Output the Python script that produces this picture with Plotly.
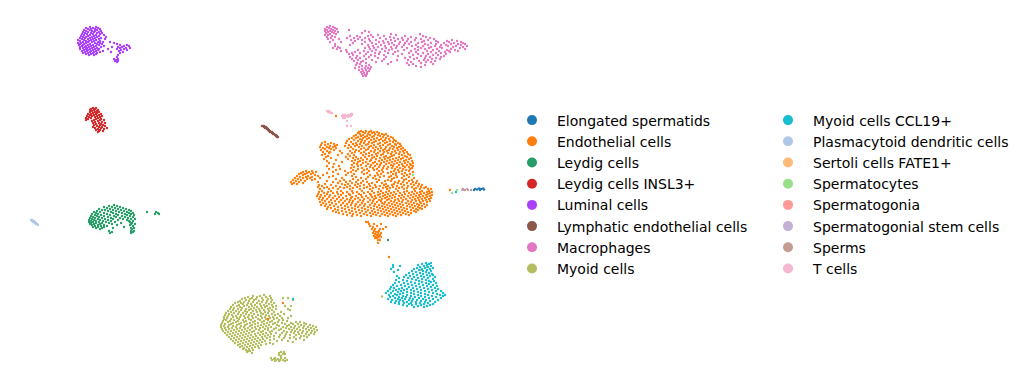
import plotly.graph_objects as go

CATEGORIES_LEFT = ["Elongated spermatids","Endothelial cells","Leydig cells","Leydig cells INSL3+","Luminal cells","Lymphatic endothelial cells","Macrophages","Myoid cells"]
CATEGORIES_RIGHT = ["Myoid cells CCL19+","Plasmacytoid dendritic cells","Sertoli cells FATE1+","Spermatocytes","Spermatogonia","Spermatogonial stem cells","Sperms","T cells"]
COLORS = {"Elongated spermatids":"#1f77b4","Endothelial cells":"#ff7f0e","Leydig cells":"#279e68","Leydig cells INSL3+":"#d62728","Luminal cells":"#aa40fc","Lymphatic endothelial cells":"#8c564b","Macrophages":"#e377c2","Myoid cells":"#b5bd61","Myoid cells CCL19+":"#17becf","Plasmacytoid dendritic cells":"#aec7e8","Sertoli cells FATE1+":"#ffbb78","Spermatocytes":"#98df8a","Spermatogonia":"#ff9896","Spermatogonial stem cells":"#c5b0d5","Sperms":"#c49c94","T cells":"#f7b6d2"}

# Embedding values, grouped by scan row: {umap2: [umap1, ...]}
ENDOTHELIAL = {
131:[361,366,371],132:[359,363,369,374,377],133:[358,365,372,379],134:[360,368,375,382,386],135:[356,363,370,378,384],
136:[354,361,367,374,380,388],137:[358,365,372,383,391],138:[352,356,363,369,377,386,393],139:[349,360,367,374,381,389],
140:[354,362,371,379,385,394],141:[347,358,365,376,383,390,396],142:[325,351,361,369,374,387,393],143:[322,331,346,356,364,372,380,385,398],
144:[328,334,353,360,368,378,390,395,400],145:[321,325,337,349,357,366,374,383,388,396],146:[330,335,345,355,362,371,380,392,401],
147:[320,327,333,351,359,369,376,386,394,399],148:[323,329,336,348,364,373,381,390,397,403],149:[325,331,353,361,368,378,385,393,401],
150:[321,334,356,366,375,383,389,398,405],151:[327,340,350,359,371,380,387,395,403],152:[323,330,355,364,374,384,392,400,407],
153:[329,342,352,361,369,378,388,396,404],154:[325,348,366,376,383,391,399,408],155:[322,338,354,363,372,381,394,402,410],
156:[328,350,369,377,386,392,405],157:[326,346,356,365,374,384,390,399,407],158:[331,353,361,372,380,388,396,403,411],
159:[324,348,358,367,376,385,393,401,409],160:[336,355,363,371,382,390,398,406],161:[327,352,360,370,379,387,395,404,412],
162:[342,358,366,375,384,392,400,408],163:[329,354,363,373,381,389,397,405,413],164:[334,357,368,377,386,394,402,410],
165:[352,361,371,380,391,399,407,411],166:[327,339,358,366,375,384,393,403,413],167:[333,354,370,379,388,397,405,409],
168:[351,362,373,383,392,400,412],169:[329,340,358,367,377,387,395,403,410],170:[336,353,364,374,382,398,406],
171:[306,312,345,356,369,379,394,402,409],172:[303,309,316,333,351,362,383,391,399,413],173:[301,307,313,327,348,367,377,388,396,405],
174:[299,305,311,338,354,364,381,393,402,410],175:[303,315,323,346,370,378,396,407],176:[297,308,318,333,352,375,384,391,404],
177:[300,306,312,329,356,368,380,389,397,409],178:[295,303,310,320,342,361,373,394,402,414],179:[298,307,315,336,353,366,376,392,406],
180:[293,301,312,344,358,379,388,404,412],181:[296,305,327,340,350,363,385,391,399,409,417],182:[291,299,318,333,346,356,367,377,395,403,413],
183:[294,303,338,352,361,372,382,398,407,416],184:[292,297,325,342,348,358,369,386,394,401,411,419],185:[319,331,345,355,364,375,384,392,404,414,422],
186:[322,336,350,360,370,380,388,397,408,418],187:[318,327,340,347,357,367,376,386,393,402,412,421,426],188:[324,333,344,353,364,373,383,390,399,407,416,424],
189:[320,329,338,350,360,370,379,387,396,404,414,420,428,431],190:[317,326,335,346,355,366,376,384,392,402,410,418,425],
191:[322,331,341,352,362,372,381,389,398,407,415,422,429],192:[319,328,337,347,357,368,378,386,394,404,412,420,427,432],
193:[324,333,343,353,364,374,383,391,400,409,417,424,430],194:[318,327,338,349,359,370,380,388,396,405,414,421,428],
195:[321,330,341,350,361,371,378,385,393,402,411,419,426,432],196:[317,325,335,346,356,366,375,383,390,399,408,416,423,430],
197:[320,329,339,352,362,372,380,387,395,404,413,420,427],198:[323,333,343,351,358,368,376,385,392,401,410,418,425,431],
199:[319,327,337,347,355,364,374,382,389,398,406,415,422,429],200:[322,331,341,350,360,370,379,387,395,403,412,419,426],
201:[325,335,345,353,363,373,381,391,399,408,416,423,430],202:[320,329,339,349,358,368,377,385,394,402,411,420,427],
203:[323,332,343,352,362,372,382,389,397,406,414,421],204:[326,336,347,356,365,375,384,392,400,409,417,424],
205:[321,330,341,351,360,370,379,387,395,403,412,419,427],206:[325,334,345,355,364,374,382,390,398,407,415,422],
207:[328,338,348,358,368,377,385,393,401,410,418,425],208:[331,342,352,362,371,380,388,396,404,413,420],
209:[327,335,345,355,365,374,383,391,399,407,416,422],210:[338,349,359,368,378,386,394,402,411,418],
211:[333,342,352,362,372,381,389,397,405,414],212:[336,346,356,366,375,384,392,400,408,416],213:[339,350,360,370,378,387,395,403,411],
214:[343,353,364,373,382,390,398,406],215:[347,357,367,376,385,393,401,409],216:[352,361,371,380,388,396],
222:[366,368],224:[369,374,381],226:[370,377],227:[373,386],229:[372,375,380,383],231:[374,379],232:[376,378],233:[373,381],234:[375,378],235:[377,380],236:[374,379],237:[376,378,381],238:[375,377],240:[378,380],243:[378],257:[389],
303:[283],319:[268],116:[336],190:[450],
}
LEYDIG = {
205:[114],206:[109,117],207:[104,112,120],208:[107,115,123],209:[99,110,118,126],210:[102,105,113,121,129],211:[97,108,116,124,131],212:[94,100,111,119,127,147,156],
213:[96,104,113,122,129,133,158],214:[92,98,107,116,125,131,155,159],215:[95,101,110,118,127,134],216:[91,97,104,114,122,130],217:[93,99,108,116,125,133],218:[90,95,102,111,120,128],
219:[92,98,105,113,123,131,135],220:[89,94,100,108,118,127],221:[91,96,103,111,129,133],222:[89,93,99,106,115,130],223:[91,96,102,109,121,132],224:[90,94,100,112,131,135],225:[92,98,104,117,130],
226:[95,101,107,133],227:[93,98,104,124],228:[96,102,113,131,134],229:[100,132],231:[109,131,134],232:[112,133],233:[110,131],240:[388],
}
INSL3 = {
108:[93,96],109:[91,95],110:[90,94,98],111:[92,97],112:[90,95,99],113:[93,97],114:[88,91,96,101],115:[90,94,99],116:[87,92,97,102],117:[89,95,100],118:[86,91,98],119:[88,96,101],
120:[86,94,100,104],121:[92,98],122:[95,102],123:[93,99,105],124:[96,101],125:[94,100,103],126:[97,105],127:[93,99,102],128:[95,101,107],129:[98,104],130:[96,100],131:[99,103],132:[98],
}
LUMINAL = {
27:[90,96],28:[86,93,98],29:[88,91,95,100],30:[84,90,97],31:[86,92,95,101],32:[83,88,94,99],33:[85,91,97,102],34:[82,87,93,100],35:[84,90,96,104],36:[81,88,94,99],37:[83,86,92,97,106],
38:[80,85,90,95,101],39:[82,88,93,99,105],40:[78,84,91,96],41:[80,86,89,94,100],42:[83,88,92,98,103,110],43:[78,81,86,95,100,114],44:[80,84,90,97,102,117],45:[79,83,88,93,99,120,127],
46:[82,86,91,96,104,124,129],47:[80,85,89,94,101,112,118,122],48:[83,87,92,97,120,126,130],49:[80,86,90,95,99,108,117,124],50:[84,88,93,98,121,127],51:[82,87,91,96,103,119],52:[85,90,94,100,111,123],
53:[83,88,93,97,120],54:[86,91,96],55:[89,94,118],57:[117],59:[114,118],60:[116],61:[115,118],62:[117],
}
LYMPHATIC = {126:[262,263,264],127:[264,265,266],128:[265,266,267],129:[267,268],130:[268,269],131:[269,270],132:[270,271,272],133:[272,273],134:[273,274],135:[275,276],136:[276,277],137:[277,278]}
MACROPHAGES = {
26:[330],27:[327,333],28:[329,335],29:[325,331,337],30:[327,333,349],31:[325,330,335,365],32:[328,332,338,369],33:[326,334,362],34:[330,336,391,420],35:[325,328,371,378,396],
36:[332,350,357,368,384,405,423],37:[327,335,360,373,390,411,426],38:[331,347,354,365,380,394,402,416,430],39:[328,339,358,369,386,398,408,421,434],40:[333,351,362,376,391,403,415,428,452],
41:[355,370,383,395,407,424,436,447,457],42:[330,341,365,379,388,400,411,422,438,449,461],43:[353,372,384,392,405,418,431,444,454,463],44:[335,362,376,389,399,409,425,436,451,458,465],
45:[350,368,381,394,404,416,428,441,446,461],46:[335,373,385,397,412,423,435,448,456,467],47:[338,369,378,391,402,418,431,440,453,463],48:[333,340,365,374,386,396,407,421,429,442,460],
49:[337,370,382,392,415,425,437,451,465],50:[346,358,376,389,404,418,433,447,455],51:[341,364,372,385,398,411,427,439,449,458],52:[347,355,368,380,395,416,431,445,450],
53:[352,360,375,388,409,423,436,441],54:[349,366,379,393,402,418,428,446],55:[353,371,384,413,433,438],56:[357,364,375,398,421,426,444],57:[350,369,386,410,430,441],
58:[356,360,378,405,417,436,425],59:[352,366,384,414,432,440],60:[358,372,397,408,424,428],61:[354,363,382,419,435],62:[361,376,391,411,426,431],63:[357,366,407,421],64:[360,388,413,433],
65:[356,369,409,425],66:[362,366,416],67:[359,371,421],68:[355,365,368],69:[362,370],70:[359,366],71:[363,369],72:[361,367],73:[364],74:[362,367],75:[365],76:[363,366],
}
MYOID = {
295:[264],296:[253,260,270],297:[248,257,266],298:[245,252,262,271,283,288],299:[242,250,256,268],300:[246,254,263,272,293],301:[240,249,259,267],302:[238,244,253,262,271],303:[235,241,248,257,266,274],
304:[243,251,260,269],305:[233,239,247,255,264,272],306:[237,244,252,261,267,276,285,291],307:[231,240,249,257,265,273],308:[234,242,254,262,270],309:[230,238,246,251,259,268,276,288],310:[233,241,249,256,264,272,290],
311:[228,236,245,253,260,269],312:[231,239,247,257,265,274,281],313:[226,234,243,251,261,268],314:[229,238,246,254,263,272,278,284],315:[225,232,241,249,258,266,275],316:[228,236,244,252,261,269,280,291],
317:[224,233,240,248,256,265,273],318:[227,237,245,253,262,270,277,282,288],319:[224,231,239,249,258,266,274],320:[226,234,243,251,260,268,279,283],321:[223,230,238,246,255,264,272,287],322:[228,236,244,253,262,270,278,296,300],
323:[222,233,241,250,258,267,275,282,291,304],324:[225,231,239,247,255,264,273,285,293,298,306],325:[221,229,237,245,252,261,269,277,289,301,310],326:[224,233,241,250,258,266,279,287,295,304,313],
327:[221,228,236,244,255,263,271,283,291,299,308,316],328:[225,232,240,248,252,260,268,276,286,294,303,311],329:[222,229,237,245,256,265,274,281,289,297,306,314],330:[226,234,242,250,259,268,279,292,300,309,317],
331:[223,231,239,247,254,263,272,284,295,303,312],332:[228,236,244,252,261,270,287,291,298,307,315],333:[225,233,241,249,258,266,276,282,294,302,311],334:[230,238,246,255,263,271,286,299,306,314],
335:[227,235,243,251,260,268,280,290,296,309],336:[232,240,248,256,265,274,285,301,304],337:[229,237,245,253,262,270,279,294,307],338:[234,242,250,258,267,284,290,300],339:[231,239,247,255,263,274,296],
340:[236,244,252,260,270,282,304],341:[233,241,249,257,265,277,288],342:[238,246,254,262,293],343:[235,243,251,259,270],344:[240,248,256,266,273],345:[238,245,253,261],346:[242,250,258],
347:[240,247,255],348:[244,252,259],349:[243,249],350:[246,253],351:[248,250],352:[247,281,284],353:[252,279],354:[283,285],355:[279],356:[281],358:[271,275,281,285],359:[274,278],360:[272,276,280,283,287],361:[275,279,285],
296.5:[382],270:[421],267:[427],
}
CCL19 = {
263:[426,431],264:[422,429],265:[393,418,427],266:[400,424,431],267:[393,420,428],268:[417,425,433],269:[391,414,422,430],270:[398,419,427],271:[412,423,431],272:[394,416,426],273:[409,420,429],
274:[413,423,432],275:[406,417,427,433],276:[397,410,421,430],277:[404,414,424,435],278:[399,408,418,428],279:[412,422,433],280:[396,403,416,426],281:[407,419,429,434],282:[399,411,422,431],
283:[395,404,415,426,436],284:[408,419,429],285:[393,401,412,423,433],286:[397,405,416,427,437],287:[391,409,420,431],288:[394,402,413,424,435],289:[390,399,407,417,428,438],290:[396,404,411,421,432],
291:[388,393,401,414,425,436,441],292:[398,407,418,429],293:[386,391,403,411,421,433,443],294:[395,400,414,425,437],295:[389,397,407,418,428,440,445],296:[393,403,411,421,432,443],297:[390,399,406,415,425,436],
298:[395,402,410,419,429,441],299:[388,398,405,413,423,433,293],300:[392,400,409,417,426,438],301:[396,403,412,421,430],302:[391,399,407,416,425,435],303:[395,404,411,420,428],304:[399,409,416,424,433],
305:[403,412,421,430],306:[407,418,427],307:[414,424],192:[456],
}
PDC = {220:[31,32],221:[32,33,34],222:[33,34,35],223:[35,36],224:[36,37],225:[38]}
T_CELLS = {111:[327,329],112:[328,330],113:[330,332],114:[351,352],115:[343,345,348,349,350,352],116:[342,345,347,349,351],117:[343,345,348],118:[343,345],121:[347],126:[347,351],238:[380]}
ELONGATED = {188.5:[479,483],189:[475,481],189.5:[477,484],190:[474,480]}
SPERMATOCYTES = {193:[452],190:[457],175:[413]}
STEM = {190:[462,464],189:[467]}
SPERMS = {190:[465,468,471],189:[463]}

def flatten(rows):
    xs, ys = [], []
    for y, row in rows.items():
        for x in row:
            xs.append(x); ys.append(y)
    return xs, ys

SERIES = [
 ("Lymphatic endothelial cells",LYMPHATIC),("Macrophages",MACROPHAGES),("Luminal cells",LUMINAL),("Leydig cells INSL3+",INSL3),
 ("Leydig cells",LEYDIG),("Plasmacytoid dendritic cells",PDC),("Myoid cells",MYOID),("Myoid cells CCL19+",CCL19),
 ("Endothelial cells",ENDOTHELIAL),("T cells",T_CELLS),("Elongated spermatids",ELONGATED),
 ("Spermatocytes",SPERMATOCYTES),("Spermatogonial stem cells",STEM),("Sperms",SPERMS),
]

fig = go.Figure()
for name, rows in SERIES:
    xs, ys = flatten(rows)
    fig.add_trace(go.Scatter(x=xs, y=ys, mode="markers", name=name, showlegend=False, hoverinfo="skip",
                             marker=dict(size=2.4, color=COLORS[name], line=dict(width=0))))
for legend_id, names in (("legend",CATEGORIES_LEFT),("legend2",CATEGORIES_RIGHT)):
    for name in names:
        fig.add_trace(go.Scatter(x=[None], y=[None], mode="markers", name=name, legend=legend_id,
                                 marker=dict(size=10, color=COLORS[name], line=dict(width=0))))
legend_common = dict(yanchor="top", xanchor="left", font=dict(family="DejaVu Sans", size=14, color="#000000"),
                     itemwidth=40, bgcolor="rgba(0,0,0,0)", tracegroupgap=0, traceorder="normal", itemclick=False, itemdoubleclick=False)
fig.update_layout(
    width=1022, height=389, margin=dict(l=0,r=0,t=0,b=0), paper_bgcolor="white", plot_bgcolor="white",
    xaxis=dict(visible=False, range=[0,1022], fixedrange=True), yaxis=dict(visible=False, range=[389,0], fixedrange=True),
    legend=dict(x=507/1022, y=1-104.5/389, **legend_common), legend2=dict(x=763/1022, y=1-104.5/389, **legend_common),
)
fig.write_html("out.html", config={"displayModeBar":False}, post_script="document.body.style.margin='0';document.body.style.overflow='hidden';")
